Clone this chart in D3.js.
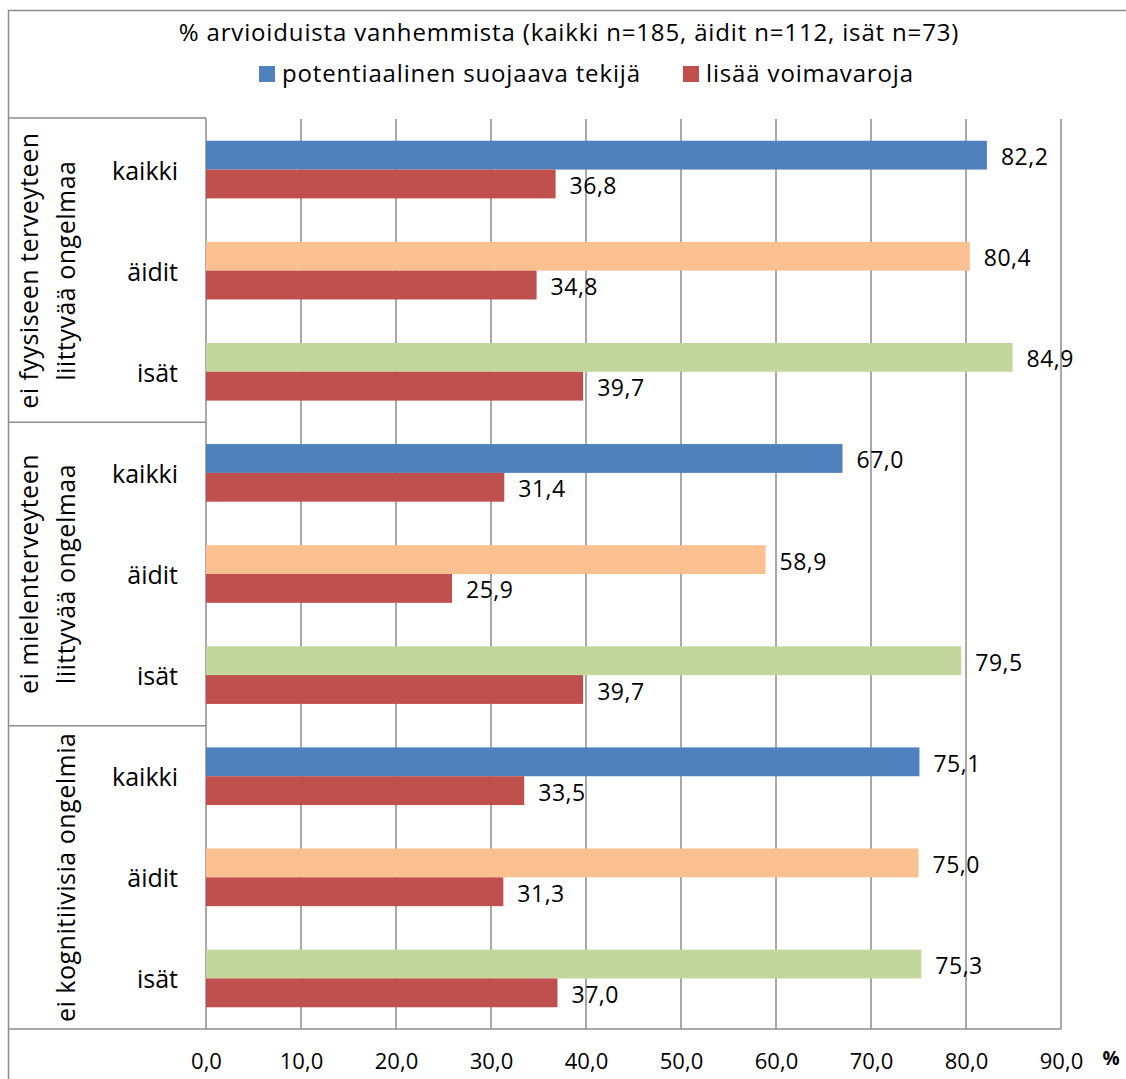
<!DOCTYPE html>
<html>
<head>
<meta charset="utf-8">
<script src="https://cdn.jsdelivr.net/npm/d3@7"></script>
<style>
  html, body { margin: 0; padding: 0; background: #fff; }
  svg text { font-family: "Open Sans", "Noto Sans", sans-serif; fill: #000; }
</style>
</head>
<body>
<svg id="chart" width="1126" height="1079"></svg>
<script>
// Parent groups and their respondent subgroups
const groups = [
  ["ei fyysiseen terveyteen", "liittyvää ongelmaa"],
  ["ei mielenterveyteen", "liittyvää ongelmaa"],
  ["ei kognitiivisia ongelmia"]
];
const subgroups = ["kaikki", "äidit", "isät"];

// % of assessed parents, in order group × subgroup
const protective = [82.2, 80.4, 84.9, 67.0, 58.9, 79.5, 75.1, 75.0, 75.3];
const resources  = [36.8, 34.8, 39.7, 31.4, 25.9, 39.7, 33.5, 31.3, 37.0];

const seriesNames = ["potentiaalinen suojaava tekijä", "lisää voimavaroja"];
const xTicks = [0, 10, 20, 30, 40, 50, 60, 70, 80, 90];
const titleText = "% arvioiduista vanhemmista (kaikki n=185, äidit n=112, isät n=73)";

// Colours: first series varies per subgroup, second is always red
const subgroupColors = { "kaikki": "#4F81BD", "äidit": "#FAC090", "isät": "#C3D69B" };
const redColor = "#C0504D";
const lineColor = "#8c8c8c";

const rows = [];
groups.forEach((g, gi) => subgroups.forEach((s, si) => {
  const i = gi * subgroups.length + si;
  rows.push({ id: gi + "-" + s, group: gi, sub: s, protective: protective[i], resources: resources[i] });
}));

const svg = d3.select("#chart");
const W = 1126, H = 1079;
const plotLeft = 206, plotRight = 1061, plotTop = 119, plotBottom = 1029;
const boxLeft = 8.5;

const locale = d3.formatLocale({ decimal: ",", thousands: " ", grouping: [3], currency: ["", "€"] });
const fmt = locale.format(".1f");

const x = d3.scaleLinear().domain([0, 90]).range([plotLeft, plotRight]);
const y = d3.scaleBand().domain(rows.map(r => r.id)).range([plotTop, plotBottom])
  .paddingInner(0.43).paddingOuter(0.215);
const ySub = d3.scaleBand().domain(["protective", "resources"]).range([0, y.bandwidth()]);

// Outer chart frame
svg.append("rect").attr("x", boxLeft).attr("y", 10.5).attr("width", W).attr("height", H)
  .attr("fill", "none").attr("stroke", lineColor).attr("stroke-width", 1.5);

// Title and legend
svg.append("text").attr("x", 569).attr("y", 41).attr("text-anchor", "middle")
  .style("font-size", "24px").style("letter-spacing", "0.85px").text(titleText);

const legend = [
  { name: seriesNames[0], color: subgroupColors["kaikki"], x: 259 },
  { name: seriesNames[1], color: redColor, x: 683 }
];
const lg = svg.append("g").selectAll("g").data(legend).join("g")
  .attr("transform", d => `translate(${d.x},74)`);
lg.append("rect").attr("x", 0).attr("y", -8).attr("width", 16).attr("height", 16).attr("fill", d => d.color);
lg.append("text").attr("x", 23).attr("y", 8)
  .style("font-size", "24px").style("letter-spacing", "0.85px").text(d => d.name);

// Vertical gridlines
svg.append("g").selectAll("line").data(xTicks).join("line")
  .attr("x1", d => x(d)).attr("x2", d => x(d))
  .attr("y1", d => d === 0 ? plotTop - 1 : plotTop).attr("y2", plotBottom)
  .attr("stroke", lineColor).attr("stroke-width", 1.5);

// Category label box on the left
const groupBounds = groups.map((g, gi) => {
  const first = rows[gi * subgroups.length].id;
  const last = rows[gi * subgroups.length + subgroups.length - 1].id;
  return { top: y(first) - y.step() * y.paddingOuter(), bottom: y(last) + y.bandwidth() + y.step() * y.paddingOuter() };
});
const hLines = [plotTop - 1].concat(groupBounds.map(b => b.bottom).slice(0, -1));
svg.append("g").selectAll("line").data(hLines).join("line")
  .attr("x1", boxLeft).attr("x2", plotLeft).attr("y1", d => d).attr("y2", d => d)
  .attr("stroke", lineColor).attr("stroke-width", 1.5);

// X axis line
svg.append("line").attr("x1", boxLeft).attr("x2", plotRight)
  .attr("y1", plotBottom).attr("y2", plotBottom)
  .attr("stroke", lineColor).attr("stroke-width", 1.5);

// Group labels (rotated)
const gl = svg.append("g").selectAll("g").data(groups).join("g")
  .attr("transform", (d, i) => `translate(0,${(groupBounds[i].top + groupBounds[i].bottom) / 2})`);
gl.each(function(lines) {
  const g = d3.select(this);
  const n = lines.length;
  lines.forEach((t, li) => {
    const bx = 75 - (n - 1 - li) * 37;
    g.append("text").attr("transform", `translate(${bx},0) rotate(-90)`)
      .attr("text-anchor", "middle").style("font-size", "25px")
      .style("letter-spacing", "0.5px").text(t);
  });
});

// Subgroup labels
svg.append("g").selectAll("text").data(rows).join("text")
  .attr("x", 178).attr("y", d => y(d.id) + y.bandwidth() / 2)
  .attr("text-anchor", "end").attr("dominant-baseline", "central")
  .style("font-size", "25px").text(d => d.sub);

// Bars
const bars = svg.append("g");
const barRows = bars.selectAll("g").data(rows).join("g")
  .attr("transform", d => `translate(0,${y(d.id)})`);
barRows.append("rect")
  .attr("x", x(0)).attr("y", ySub("protective"))
  .attr("width", d => x(d.protective) - x(0)).attr("height", ySub.bandwidth())
  .attr("fill", d => subgroupColors[d.sub]);
barRows.append("rect")
  .attr("x", x(0)).attr("y", ySub("resources"))
  .attr("width", d => x(d.resources) - x(0)).attr("height", ySub.bandwidth())
  .attr("fill", redColor);

// Value labels
barRows.append("text")
  .attr("x", d => x(d.protective) + 14).attr("y", ySub("protective") + ySub.bandwidth() / 2 + 1)
  .attr("dominant-baseline", "central").style("font-size", "23px")
  .style("letter-spacing", "0.5px").text(d => fmt(d.protective));
barRows.append("text")
  .attr("x", d => x(d.resources) + 14).attr("y", ySub("resources") + ySub.bandwidth() / 2 + 1)
  .attr("dominant-baseline", "central").style("font-size", "23px")
  .style("letter-spacing", "0.5px").text(d => fmt(d.resources));

// X tick labels
const axis = d3.axisBottom(x).tickValues(xTicks).tickFormat(fmt).tickSize(0).tickPadding(24);
const ax = svg.append("g").attr("transform", `translate(0,${plotBottom})`).call(axis);
ax.select(".domain").remove();
ax.selectAll("text").style("font-size", "22px")
  .style("font-family", "'Open Sans', 'Noto Sans', sans-serif").attr("fill", "#000");

// Unit label
svg.append("text").attr("x", 1111).attr("y", 1058).attr("text-anchor", "middle")
  .attr("dominant-baseline", "central").style("font-size", "19px").style("font-weight", "bold").text("%");
</script>
</body>
</html>
